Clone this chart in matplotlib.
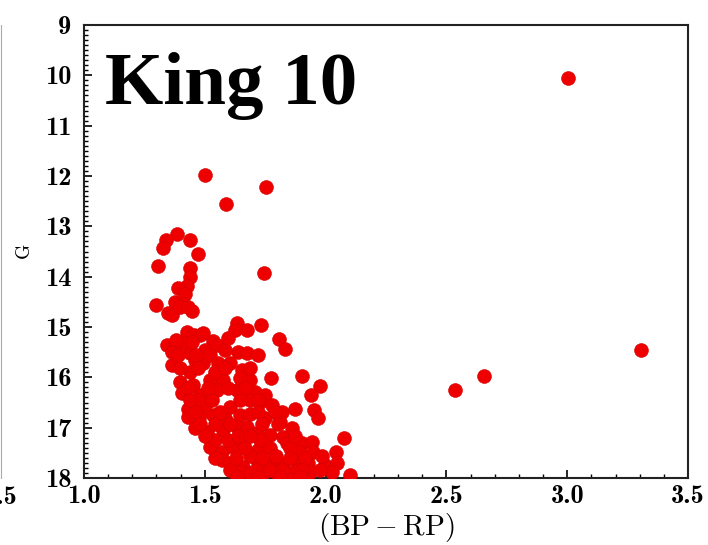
import numpy as np
import matplotlib
matplotlib.use("Agg")
import matplotlib.pyplot as plt
from matplotlib.ticker import MultipleLocator

plt.rcParams['axes.formatter.use_mathtext'] = True
plt.rcParams['mathtext.fontset'] = 'cm'

# Gaia colour (BP-RP) and G magnitude of the King 10 members
bp_rp = [3.003, 3.305, 2.656, 2.536, 1.500, 1.753, 1.588, 1.745, 1.384, 1.339,
         1.439, 1.328, 1.471, 1.306, 1.439, 1.439, 1.425, 1.390, 1.419, 1.377,
         1.411, 1.298, 1.447, 1.349, 1.363, 1.397, 1.432, 1.632, 1.625, 1.673,
         1.733, 1.808, 1.425, 1.457, 1.480, 1.345, 1.411, 1.532, 1.549, 1.832,
         1.639, 1.673, 1.363, 1.439, 1.494, 1.556, 1.604, 1.653, 1.687, 1.773,
         1.901, 1.977, 1.938, 1.397, 1.452, 1.522, 1.577, 1.404, 1.480, 1.549,
         1.632, 1.749, 1.728, 1.818, 1.873, 1.952, 1.970, 1.432, 1.432, 1.535,
         1.480, 1.604, 1.646, 1.687, 1.749, 1.459, 1.508, 1.577, 1.632, 1.673,
         1.715, 1.770, 1.825, 1.522, 1.570, 1.618, 1.659, 1.721, 1.770, 1.839,
         1.901, 1.942, 1.949, 2.042, 2.076, 1.570, 1.604, 1.659, 1.715, 1.770,
         1.825, 1.880, 1.928, 1.998, 2.046, 2.025, 1.646, 1.687, 1.742, 1.797,
         1.853, 1.935, 2.101, 1.501, 1.584, 1.459, 1.542, 1.646, 1.708, 1.501,
         1.584, 1.687, 1.778, 1.811, 1.861, 1.542, 1.728, 1.795, 1.687, 1.894,
         1.985, 1.439, 1.472, 1.596, 1.749, 1.886, 1.493, 1.364, 1.381,
         1.447, 1.596, 1.389, 1.464, 1.522, 1.720, 1.397, 1.472, 1.584, 1.687,
         1.430, 1.513, 1.596, 1.666, 1.439, 1.530, 1.646, 1.720, 1.459, 1.563,
         1.720, 1.791, 1.480, 1.542, 1.604, 1.737, 1.803, 1.501, 1.637, 1.687,
         1.873, 1.666, 1.853, 1.542, 1.629, 1.737, 1.853, 1.915, 1.604, 1.712,
         1.770, 1.820, 1.902, 1.977, 1.633, 1.720, 1.811, 1.894]
g_mag = [10.05, 15.46, 15.97, 16.25, 11.98, 12.22, 12.56, 13.93, 13.15, 13.27,
         13.27, 13.44, 13.55, 13.78, 13.83, 14.00, 14.19, 14.22, 14.34, 14.50,
         14.54, 14.56, 14.68, 14.72, 14.76, 14.60, 14.60, 14.92, 15.06, 15.05,
         14.96, 15.23, 15.09, 15.16, 15.15, 15.36, 15.32, 15.27, 15.36, 15.44,
         15.49, 15.51, 15.76, 15.52, 15.72, 15.72, 15.72, 15.85, 16.05, 16.02,
         15.97, 16.17, 16.35, 16.09, 16.15, 16.05, 16.05, 16.32, 16.35, 16.25,
         16.25, 16.35, 16.48, 16.68, 16.62, 16.65, 16.81, 16.62, 16.78, 16.75,
         16.75, 16.58, 16.75, 16.72, 16.81, 17.01, 17.08, 17.05, 16.98, 16.98,
         17.11, 17.15, 17.18, 17.38, 17.48, 17.38, 17.31, 17.44, 17.41, 17.31,
         17.31, 17.28, 17.48, 17.48, 17.21, 17.64, 17.71, 17.78, 17.64, 17.71,
         17.74, 17.68, 17.71, 17.74, 17.71, 17.88, 17.88, 17.91, 17.91, 17.91,
         17.91, 17.88, 17.94, 15.46, 15.46, 15.66, 15.89, 16.01, 16.29, 16.55,
         16.81, 16.45, 16.55, 16.89, 17.01, 17.25, 17.25, 17.56, 17.56, 17.48,
         17.56, 15.89, 16.45, 17.25, 17.74, 17.84, 15.12, 15.50, 15.26,
         15.30, 15.22, 15.56, 15.56, 15.56, 15.56, 15.82, 15.82, 15.82, 15.82,
         16.21, 16.21, 16.21, 16.21, 16.45, 16.45, 16.45, 16.45, 16.69, 16.69,
         16.69, 16.69, 16.93, 16.93, 16.93, 16.93, 16.93, 17.17, 17.17, 17.17,
         17.17, 17.40, 17.40, 17.60, 17.60, 17.60, 17.60, 17.60, 17.84, 17.84,
         17.84, 17.84, 17.84, 17.84, 17.98, 17.98, 17.98, 17.98]

x_ticks = [1.0, 1.5, 2.0, 2.5, 3.0, 3.5]
y_ticks = [9, 10, 11, 12, 13, 14, 15, 16, 17, 18]

fig = plt.figure(figsize=(7.08, 5.45), dpi=100)

# neighbouring panel, only its right edge shows
ax0 = fig.add_axes([-0.9, 0.1229, 0.9015, 0.8312])
ax0.set_xlim(1.0, 3.5)
ax0.set_ylim(18, 9)
ax0.set_xticks(x_ticks)
ax0.set_xticklabels(['%.1f' % t for t in x_ticks], fontfamily='cmb10', fontsize=19)
ax0.set_yticks([])
for s in ['top', 'left', 'bottom']:
    ax0.spines[s].set_visible(False)
ax0.spines['right'].set_color('#aaaaaa')
ax0.tick_params(axis='x', length=0, pad=6)

ax = fig.add_axes([0.1186, 0.1229, 0.8532, 0.8312])
ax.scatter(bp_rp, g_mag, s=100, c='#ee0000', edgecolors='#d40000',
           linewidths=0.4, zorder=3)

ax.set_xlim(1.0, 3.5)
ax.set_ylim(18, 9)
ax.set_xticks(x_ticks)
ax.set_yticks(y_ticks)
ax.set_xticklabels(['%.1f' % t for t in x_ticks])
ax.set_yticklabels([str(t) for t in y_ticks])
ax.xaxis.set_minor_locator(MultipleLocator(0.1))
ax.yaxis.set_minor_locator(MultipleLocator(0.1))
for lab in ax.get_xticklabels() + ax.get_yticklabels():
    lab.set_fontfamily('cmb10')
    lab.set_fontsize(19)
ax.tick_params(which='major', direction='in', length=6, width=1.2, top=False, right=False)
ax.tick_params(axis='x', which='major', pad=5)
ax.tick_params(axis='y', which='major', pad=9)
ax.tick_params(which='minor', direction='in', length=3, width=1.0, top=False, right=False)
for s in ax.spines.values():
    s.set_linewidth(1.5)
    s.set_color('#222222')

ax.set_xlabel(r'$\mathrm{(BP-RP)}$', fontsize=21, labelpad=2)
ax.set_ylabel(r'$\mathrm{G}$', fontsize=14, labelpad=8)

ax.text(0.034, 0.94, 'King 10', transform=ax.transAxes, ha='left', va='top',
        fontfamily='Liberation Serif', fontweight='bold', fontsize=54)

fig.savefig('out.png', dpi=100)
